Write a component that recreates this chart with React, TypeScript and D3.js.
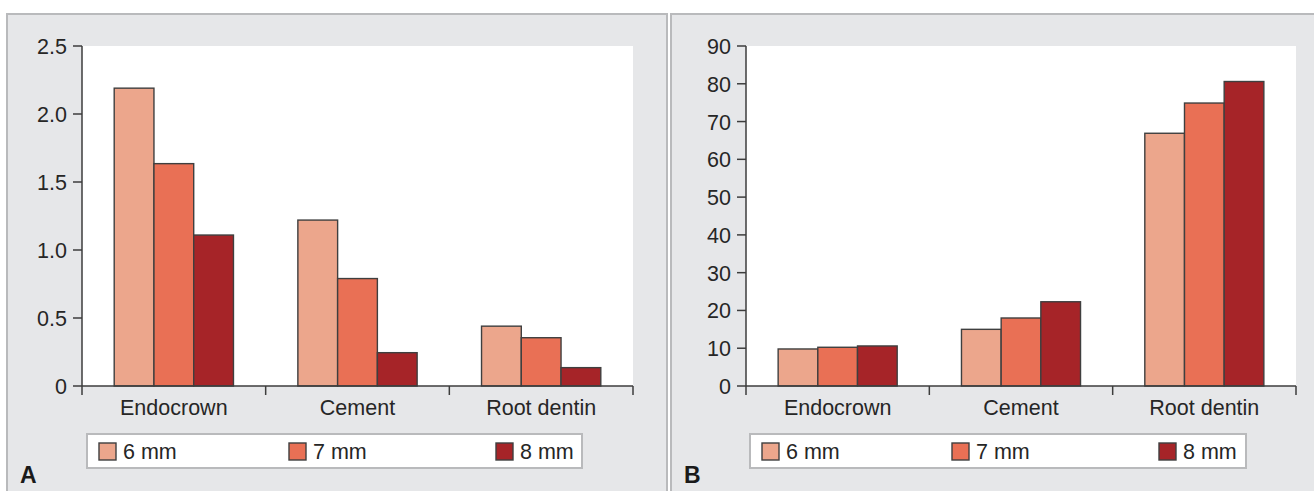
import React from "react";
import * as d3 from "d3";

const categories = ["Endocrown", "Cement", "Root dentin"];
const seriesNames = ["6 mm", "7 mm", "8 mm"];
const seriesColors = ["#eca68c", "#e97055", "#a62428"];

// Panel A: values per series, ordered by category
const valuesA = [
  [2.19, 1.22, 0.44],
  [1.635, 0.79, 0.355],
  [1.11, 0.245, 0.135],
];
const ticksA = [0, 0.5, 1.0, 1.5, 2.0, 2.5];
const tickLabelsA = ["0", "0.5", "1.0", "1.5", "2.0", "2.5"];

// Panel B
const valuesB = [
  [9.8, 15.0, 66.9],
  [10.25, 18.0, 74.9],
  [10.6, 22.3, 80.6],
];
const ticksB = [0, 10, 20, 30, 40, 50, 60, 70, 80, 90];
const tickLabelsB = ticksB.map((t) => String(t));

const FONT = "Liberation Sans, Arial, Helvetica, sans-serif";
const TEXT = "#262626";
const AXIS = "#3d3d3d";
const BG = "#e6e7e9";
const BORDER = "#b9babc";

type PanelProps = {
  left: number;
  plotLeft: number;
  plotRight: number;
  values: number[][];
  yMax: number;
  ticks: number[];
  tickLabels: string[];
  legendX: number;
  legendW: number;
  letter: string;
};

function Panel(p: PanelProps) {
  const top = 46;
  const base = 386;
  const y = d3.scaleLinear().domain([0, p.yMax]).range([base, top]);
  const x = d3.scaleBand<string>().domain(categories).range([p.plotLeft, p.plotRight]).padding(0);
  const inner = d3
    .scaleBand<string>()
    .domain(seriesNames)
    .range([0, x.bandwidth()])
    .paddingInner(0)
    .paddingOuter(0.81);

  const legendSlots = [p.legendX + 12, p.legendX + 202, p.legendX + 409];

  return (
    <g>
      <rect x={p.left} y={14} width={660} height={500} fill={BG} stroke={BORDER} strokeWidth={2} />
      <rect x={p.plotLeft} y={top} width={p.plotRight - p.plotLeft} height={base - top} fill="#ffffff" />
      {/* bars */}
      {seriesNames.map((s, si) =>
        categories.map((c, ci) => {
          const v = p.values[si][ci];
          const bx = (x(c) as number) + (inner(s) as number);
          return (
            <rect
              key={s + c}
              x={bx}
              y={y(v)}
              width={inner.bandwidth()}
              height={base - y(v)}
              fill={seriesColors[si]}
              stroke="#3f3f3f"
              strokeWidth={1.4}
            />
          );
        })
      )}
      {/* y axis */}
      <line x1={p.plotLeft} x2={p.plotLeft} y1={y(p.yMax)} y2={base + 9} stroke={AXIS} strokeWidth={1.5} />
      {p.ticks.map((t, i) => (
        <g key={t}>
          <line x1={p.plotLeft - 9} x2={p.plotLeft} y1={y(t)} y2={y(t)} stroke={AXIS} strokeWidth={1.5} />
          <text
            x={p.plotLeft - 15}
            y={y(t) + 8}
            textAnchor="end"
            fontFamily={FONT}
            fontSize={21.5}
            fill={TEXT}
          >
            {p.tickLabels[i]}
          </text>
        </g>
      ))}
      {/* x axis */}
      <line x1={p.plotLeft} x2={p.plotRight} y1={base} y2={base} stroke={AXIS} strokeWidth={1.5} />
      {categories.map((c) => (
        <line key={"t" + c} x1={(x(c) as number) + x.bandwidth()} x2={(x(c) as number) + x.bandwidth()} y1={base} y2={base + 9} stroke={AXIS} strokeWidth={1.5} />
      ))}
      {categories.map((c) => (
        <text
          key={"l" + c}
          x={(x(c) as number) + x.bandwidth() / 2}
          y={415}
          textAnchor="middle"
          fontFamily={FONT}
          fontSize={21.5}
          fill={TEXT}
        >
          {c}
        </text>
      ))}
      {/* legend */}
      <rect x={p.legendX} y={434} width={p.legendW} height={34} fill="#ffffff" stroke={BORDER} strokeWidth={2} />
      {seriesNames.map((s, i) => (
        <g key={"lg" + s}>
          <rect x={legendSlots[i]} y={443} width={17} height={17} fill={seriesColors[i]} stroke="#3f3f3f" strokeWidth={1.4} />
          <text x={legendSlots[i] + 24} y={459} fontFamily={FONT} fontSize={21.5} fill={TEXT}>
            {s}
          </text>
        </g>
      ))}
      <text x={p.left + 13} y={483} fontFamily={FONT} fontSize={23} fontWeight="bold" fill="#1a1a1a">
        {p.letter}
      </text>
    </g>
  );
}

export default function App() {
  return (
    <div style={{ position: "absolute", left: 0, top: 0 }}>
      <svg width={1314} height={491} style={{ display: "block" }}>
        <rect x={0} y={0} width={1314} height={491} fill="#ffffff" />
        <Panel
          left={7}
          plotLeft={82}
          plotRight={633}
          values={valuesA}
          yMax={2.5}
          ticks={ticksA}
          tickLabels={tickLabelsA}
          legendX={87}
          legendW={495}
          letter="A"
        />
        <Panel
          left={671}
          plotLeft={746}
          plotRight={1296}
          values={valuesB}
          yMax={90}
          ticks={ticksB}
          tickLabels={tickLabelsB}
          legendX={750}
          legendW={496}
          letter="B"
        />
      </svg>
    </div>
  );
}
